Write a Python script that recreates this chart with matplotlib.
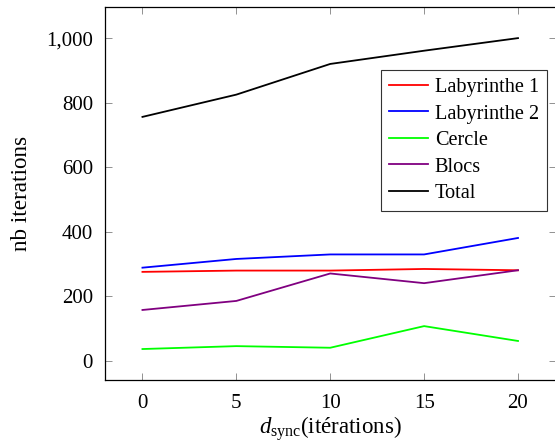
import matplotlib
matplotlib.use("Agg")
import matplotlib.pyplot as plt
from matplotlib.ticker import FuncFormatter

plt.rcParams['font.family'] = ['Liberation Serif', 'DejaVu Serif']
plt.rcParams['mathtext.fontset'] = 'custom'
plt.rcParams['mathtext.rm'] = 'Liberation Serif'
plt.rcParams['mathtext.it'] = 'Liberation Serif:italic'

# data
d_sync = [0, 5, 10, 15, 20]
labyrinthe1 = [276, 280, 280, 285, 281]
labyrinthe2 = [289, 316, 330, 330, 381]
cercle = [37, 46, 41, 108, 62]
blocs = [158, 186, 271, 241, 281]
total = [756, 825, 920, 961, 1000]

series = [
    ('Labyrinthe 1', labyrinthe1, (1, 0, 0)),
    ('Labyrinthe 2', labyrinthe2, (0, 0, 1)),
    ('Cercle', cercle, (0, 1, 0)),
    ('Blocs', blocs, (0.5, 0, 0.5)),
    ('Total', total, (0, 0, 0)),
]

fig = plt.figure(figsize=(5.55, 4.45), dpi=100)
ax = fig.add_axes([0.189, 0.146, 0.812, 0.838])

for name, vals, col in series:
    ax.plot(d_sync, vals, color=col, lw=1.3, label=name)

ax.set_xlim(-2, 22)
ax.set_ylim(-59, 1096)
ax.set_xticks([0, 5, 10, 15, 20])
ax.set_yticks([0, 200, 400, 600, 800, 1000])
ax.yaxis.set_major_formatter(FuncFormatter(lambda v, p: f'{int(v):,}'))
ax.tick_params(direction='in', top=True, right=True, length=5, width=0.6,
               color='0.5', labelsize=15)
ax.tick_params(axis='y', pad=8.5)
ax.tick_params(axis='x', pad=10)
for s in ax.spines.values():
    s.set_linewidth(0.9)

ax.set_xlabel(r'$d_{\mathrm{sync}}$(itérations)', fontsize=16.5, labelpad=1)
ax.set_ylabel('nb iterations', fontsize=16.7, labelpad=10)

leg = ax.legend(loc='upper right', bbox_to_anchor=(0.981, 0.832), fontsize=14.6,
                frameon=True, fancybox=False, edgecolor='0.2', framealpha=1,
                handlelength=1.92, handletextpad=0.35, labelspacing=0.36,
                borderpad=0.4, borderaxespad=0)
leg.get_frame().set_linewidth(0.8)

fig.savefig('out.png', dpi=100)
